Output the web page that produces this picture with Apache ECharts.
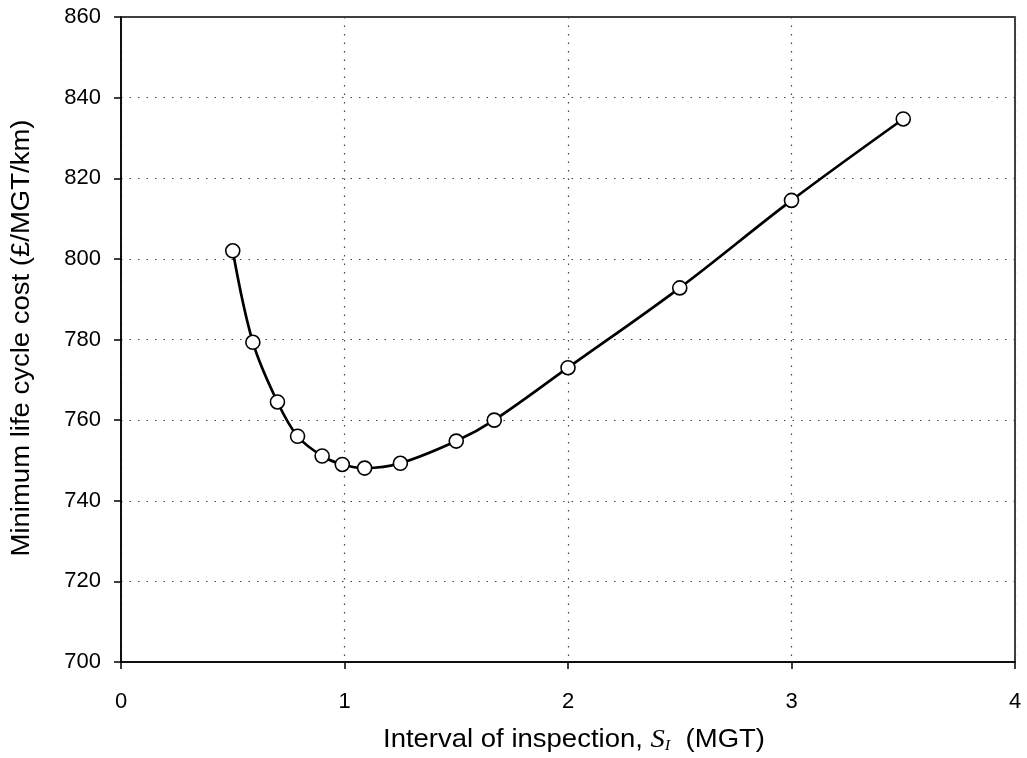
<!DOCTYPE html>
<html>
<head>
<meta charset="utf-8">
<script src="https://cdn.jsdelivr.net/npm/echarts@6/dist/echarts.min.js"></script>
<style>
html,body{margin:0;padding:0;background:#fff;}
#chart{width:1027px;height:758px;}
</style>
</head>
<body>
<div id="chart"></div>
<script>
const intervals = [0.5, 0.59, 0.70, 0.79, 0.90, 0.99, 1.09, 1.25, 1.50, 1.67, 2.0, 2.5, 3.0, 3.5];
const costs     = [802, 779.3, 764.5, 756, 751.1, 749.0, 748.1, 749.3, 754.8, 760.0, 773.0, 792.8, 814.5, 834.7];
const xTicks = [0, 1, 2, 3, 4];
const yTicks = [700, 720, 740, 760, 780, 800, 820, 840, 860];
const xTitle = 'Interval of inspection, ';
const xTitleSym = 'S';
const xTitleSub = 'I';
const xTitleUnit = '  (MGT)';
const yTitle = 'Minimum life cycle cost (£/MGT/km)';

const chart = echarts.init(document.getElementById('chart'));
const font = 'Liberation Sans, Arial, sans-serif';
const serif = 'Liberation Serif, Times New Roman, serif';
chart.setOption({
  animation: false,
  grid: { left: 121, right: 12, top: 17, bottom: 96, show: true, borderColor: '#000', borderWidth: 1.5, backgroundColor: 'transparent' },
  xAxis: {
    type: 'value', min: xTicks[0], max: xTicks[xTicks.length-1], interval: 1,
    axisLine: { show: true, lineStyle: { color: '#000', width: 1.5 } },
    axisTick: { show: true, inside: false, length: 7, lineStyle: { color: '#000', width: 1.5 } },
    axisLabel: { color: '#000', fontFamily: font, fontSize: 22, margin: 29 },
    splitLine: { show: true, lineStyle: { color: '#444', type: [1.5, 7], width: 1.2 } }
  },
  yAxis: {
    type: 'value', min: yTicks[0], max: yTicks[yTicks.length-1], interval: 20,
    axisLine: { show: true, lineStyle: { color: '#000', width: 1.5 } },
    axisTick: { show: true, inside: false, length: 7, lineStyle: { color: '#000', width: 1.5 } },
    axisLabel: { color: '#000', fontFamily: font, fontSize: 22, margin: 20 },
    splitLine: { show: true, lineStyle: { color: '#444', type: [1.5, 7], width: 1.2 } }
  },
  graphic: [
    {
      type: 'text', left: 383, top: 727, scaleX: 1.1, originX: 0,
      style: {
        text: '{a|' + xTitle + '}{s|' + xTitleSym + '}{sub|' + xTitleSub + '}{a|' + xTitleUnit + '}',
        rich: {
          a: { fontFamily: font, fontSize: 25, fill: '#000', color: '#000' },
          s: { fontFamily: serif, fontStyle: 'italic', fontSize: 26, fill: '#000', color: '#000' },
          sub: { fontFamily: serif, fontStyle: 'italic', fontSize: 15, fill: '#000', color: '#000', padding: [12, 0, 0, 0] }
        }
      }
    },
    {
      type: 'text', x: 22, y: 338, rotation: Math.PI / 2, scaleX: 1.1,
      style: {
        text: yTitle, font: '25px ' + font, fill: '#000',
        align: 'center', verticalAlign: 'middle'
      }
    }
  ],
  series: [{
    type: 'line',
    data: intervals.map((x, i) => [x, costs[i]]),
    smooth: 0.35,
    symbol: 'circle', symbolSize: 14,
    lineStyle: { color: '#000', width: 2.7 },
    itemStyle: { color: '#fff', borderColor: '#000', borderWidth: 1.6 },
    z: 3
  }]
});
</script>
</body>
</html>
